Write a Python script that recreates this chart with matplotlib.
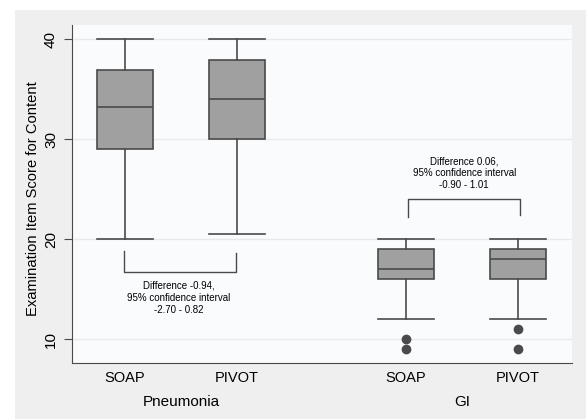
import matplotlib
matplotlib.use("Agg")
import matplotlib.pyplot as plt
from matplotlib.patches import Rectangle

plt.rcParams["font.family"] = ["Liberation Sans", "DejaVu Sans"]

# box stats
groups = ["Pneumonia", "GI"]
arms = ["SOAP", "PIVOT", "SOAP", "PIVOT"]
positions = [1, 2, 3.5, 4.5]
whislo = [20, 20.5, 12, 12]
q1 = [29, 30, 16, 16]
med = [33.2, 34, 17, 18]
q3 = [36.9, 37.9, 19, 19]
whishi = [40, 40, 20, 20]
fliers = [[], [], [10, 9], [11, 9]]

diff_text = ["Difference -0.94,\n95% confidence interval\n-2.70 - 0.82",
             "Difference 0.06,\n95% confidence interval\n-0.90 - 1.01"]

fig = plt.figure(figsize=(5.86, 4.19), dpi=100)
fig.patches.append(Rectangle((15 / 586, 0), 1, 1 - 10 / 419, transform=fig.transFigure,
                             fc="#efeff0", ec="none", zorder=-10))
ax = fig.add_axes([72 / 586, 1 - 363 / 419, 500 / 586, 338 / 419])
ax.set_facecolor("#fafbfd")

stats = [dict(whislo=a, q1=b, med=c, q3=d, whishi=e, fliers=f)
         for a, b, c, d, e, f in zip(whislo, q1, med, q3, whishi, fliers)]
ec = "#4a4a4a"
ax.bxp(stats, positions=positions, widths=0.5, patch_artist=True,
       boxprops=dict(facecolor="#a0a0a0", edgecolor=ec, lw=1.2),
       medianprops=dict(color=ec, lw=1.2),
       whiskerprops=dict(color=ec, lw=1.2),
       capprops=dict(color=ec, lw=1.2), capwidths=0.5,
       flierprops=dict(marker="o", mfc=ec, mec=ec, ms=6))

# difference brackets
ax.plot([0.99, 0.99, 1.99, 1.99], [18.8, 16.7, 16.7, 18.6], c=ec, lw=1)
ax.text(1.48, 15.8, diff_text[0], ha="center", va="top", fontsize=7, linespacing=1.25)
ax.plot([3.52, 3.52, 4.52, 4.52], [22.2, 24, 24, 22.35], c=ec, lw=1)
ax.text(4.02, 28.3, diff_text[1], ha="center", va="top", fontsize=7, linespacing=1.25)

ax.set_xlim(0.53, 4.98)
ax.set_ylim(7.6, 41.4)
ax.set_yticks([10, 20, 30, 40])
ax.set_yticklabels(["10", "20", "30", "40"], rotation=90, va="center", fontsize=11)
ax.set_xticks(positions)
ax.set_xticklabels(arms, fontsize=10.5)
ax.tick_params(axis="x", length=0, pad=6)
ax.tick_params(axis="y", length=6, color=ec, pad=4)
ax.grid(axis="y", color="#e8e9ec", lw=1)
ax.set_axisbelow(True)
for s in ["top", "right"]:
    ax.spines[s].set_visible(False)
for s in ["left", "bottom"]:
    ax.spines[s].set_color(ec)
ax.set_ylabel("Examination Item Score for Content", fontsize=10.6)
ax.yaxis.set_label_coords(-0.064, 0.485)

for g, x in zip(groups, [1.5, 4.0]):
    ax.text(x, -0.115, g, transform=ax.get_xaxis_transform(), ha="center", va="center",
            fontsize=11)

fig.savefig("out.png", dpi=100, facecolor="white")
